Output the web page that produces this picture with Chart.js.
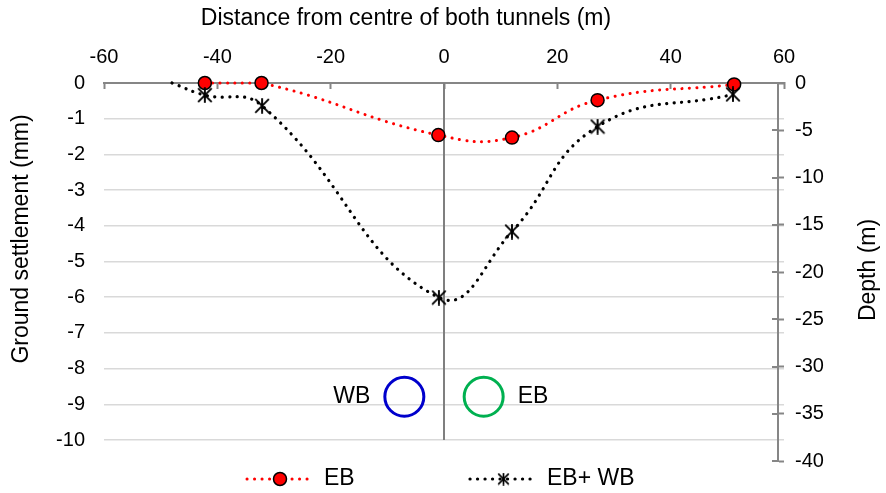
<!DOCTYPE html>
<html>
<head>
<meta charset="utf-8">
<script src="https://cdn.jsdelivr.net/npm/chart.js@4.4.1/dist/chart.umd.min.js"></script>
<style>
  html, body { margin: 0; padding: 0; background: #ffffff; }
  #wrap { width: 886px; height: 493px; }
</style>
</head>
<body>
<div id="wrap"><canvas id="chart" width="886" height="493"></canvas></div>
<script>
// Surface settlement trough above the twin tunnels (EB alone, then EB + WB)
const seriesNames = ['EB', 'EB+ WB'];
const distanceEB = [-42.2, -32.2, -1.0, 12.0, 27.1, 51.2];
const settlementEB = [0, 0, -1.46, -1.53, -0.48, -0.04];
const distanceBoth = [-48.0, -42.2, -32.1, -0.9, 12.0, 27.1, 51.0];
const settlementBoth = [0, -0.34, -0.64, -6.01, -4.16, -1.22, -0.32];

// Tunnel cross-sections, plotted against depth
const tunnelNames = ['WB', 'EB'];
const tunnelX = [-7, 7];
const tunnelDepth = [-33.2, -33.2];
const tunnelColours = ['#0000CC', '#00B050'];

// Centreline between the tunnels, in settlement units
const centreLineX = [0, 0];
const centreLineY = [0, -10];

// Axis ticks
const distanceTicks = [-60, -40, -20, 0, 20, 40, 60];
const settlementTicks = [0, -1, -2, -3, -4, -5, -6, -7, -8, -9, -10];
const depthTicks = [0, -5, -10, -15, -20, -25, -30, -35, -40];

const titleTop = 'Distance from centre of both tunnels (m)';
const titleLeft = 'Ground settlement (mm)';
const titleRight = 'Depth (m)';

const FONT = '"Liberation Sans", Arial, sans-serif';
Chart.defaults.font.family = FONT;
Chart.defaults.color = '#000000';

const AXIS_GREY = '#868686';
const DOT_DASH = [0.1, 7.4];

function pairs(xs, ys) {
  return xs.map((x, i) => ({ x: x, y: ys[i] }));
}

// Asterisk marker: an X crossed by a vertical stroke
function makeStar(size, lw) {
  const c = document.createElement('canvas');
  c.width = size; c.height = size;
  const g = c.getContext('2d');
  g.strokeStyle = '#000000';
  g.lineWidth = lw;
  const a = 1.2, b = size - 1.2, m = size / 2;
  g.beginPath();
  g.moveTo(a, a); g.lineTo(b, b);
  g.moveTo(b, a); g.lineTo(a, b);
  g.moveTo(m, 0.3); g.lineTo(m, size - 0.3);
  g.stroke();
  return c;
}
const starMarker = makeStar(16, 1.9);
const starLegend = makeStar(13, 1.7);

function ticksFrom(list) {
  return function (scale) {
    scale.ticks = list.map(v => ({ value: v }));
  };
}

// Axis titles, the short inner half of the depth ticks, tunnel labels and the legend
const decorations = {
  id: 'decorations',
  afterLayout(chart) {
    // depth axis sits just inside the end of the distance axis
    const d = chart.scales.depth;
    d.left -= 6; d.right -= 6;
  },
  afterDraw(chart) {
    const ctx = chart.ctx;
    const xs = chart.scales.x;
    const ds = chart.scales.depth;

    ctx.save();
    ctx.fillStyle = '#000000';
    ctx.font = '23px ' + FONT;
    ctx.textBaseline = 'middle';

    ctx.textAlign = 'center';
    ctx.fillText(titleTop, 406, 19);

    ctx.save();
    ctx.translate(22, 239);
    ctx.rotate(-Math.PI / 2);
    ctx.fillText(titleLeft, 0, 0);
    ctx.restore();

    ctx.save();
    ctx.translate(869, 270);
    ctx.rotate(-Math.PI / 2);
    ctx.fillText(titleRight, 0, 0);
    ctx.restore();

    // inner half of the depth tick marks
    ctx.strokeStyle = AXIS_GREY;
    ctx.lineWidth = 2;
    ds.ticks.forEach(t => {
      const y = Math.round(ds.getPixelForValue(t.value));
      ctx.beginPath();
      ctx.moveTo(ds.left - 6, y);
      ctx.lineTo(ds.left, y);
      ctx.stroke();
    });

    // tunnel names beside the circles
    tunnelNames.forEach((name, i) => {
      const px = xs.getPixelForValue(tunnelX[i]);
      const py = ds.getPixelForValue(tunnelDepth[i]);
      ctx.textAlign = i === 0 ? 'right' : 'left';
      ctx.fillText(name, i === 0 ? px - 34 : px + 34, py);
    });

    // legend
    const ly = 479;
    const items = [
      { x0: 247, x1: 313, colour: '#FF0000', width: 3, text: seriesNames[0], tx: 324, marker: 'circle' },
      { x0: 470, x1: 537, colour: '#000000', width: 3.2, text: seriesNames[1], tx: 547, marker: 'star' }
    ];
    items.forEach(it => {
      ctx.save();
      ctx.strokeStyle = it.colour;
      ctx.lineWidth = it.width;
      ctx.lineCap = 'round';
      ctx.setLineDash(DOT_DASH);
      ctx.beginPath();
      ctx.moveTo(it.x0, ly);
      ctx.lineTo(it.x1, ly);
      ctx.stroke();
      ctx.restore();
      const mx = (it.x0 + it.x1) / 2;
      if (it.marker === 'circle') {
        ctx.beginPath();
        ctx.arc(mx, ly, 6.5, 0, Math.PI * 2);
        ctx.fillStyle = '#FF0000';
        ctx.fill();
        ctx.lineWidth = 1.5;
        ctx.strokeStyle = '#000000';
        ctx.stroke();
      } else {
        ctx.drawImage(starLegend, mx - starLegend.width / 2, ly - starLegend.height / 2);
      }
      ctx.fillStyle = '#000000';
      ctx.textAlign = 'left';
      ctx.fillText(it.text, it.tx, ly);
    });
    ctx.restore();
  }
};

new Chart(document.getElementById('chart'), {
  type: 'scatter',
  data: {
    datasets: [
      {
        label: seriesNames[1],
        data: pairs(distanceBoth, settlementBoth),
        yAxisID: 'y',
        showLine: true,
        tension: 0.45,
        borderColor: '#000000',
        borderWidth: 3.2,
        borderDash: DOT_DASH,
        borderCapStyle: 'round',
        pointStyle: starMarker,
        pointRadius: ctx => (ctx.dataIndex === 0 ? 0 : 7),
        clip: false,
        order: 1
      },
      {
        label: seriesNames[0],
        data: pairs(distanceEB, settlementEB),
        yAxisID: 'y',
        showLine: true,
        tension: 0.45,
        borderColor: '#FF0000',
        borderWidth: 3,
        borderDash: DOT_DASH,
        borderCapStyle: 'round',
        pointStyle: 'circle',
        pointRadius: 6.5,
        pointBackgroundColor: '#FF0000',
        pointBorderColor: '#000000',
        pointBorderWidth: 1.5,
        clip: false,
        order: 2
      },
      {
        label: 'tunnels',
        data: pairs(tunnelX, tunnelDepth),
        yAxisID: 'depth',
        showLine: false,
        pointStyle: 'circle',
        pointRadius: 19.5,
        pointBackgroundColor: 'rgba(0,0,0,0)',
        pointBorderColor: tunnelColours,
        pointBorderWidth: 3,
        clip: false,
        order: 3
      },
      {
        label: 'centreline',
        data: pairs(centreLineX, centreLineY),
        yAxisID: 'y',
        showLine: true,
        borderColor: '#7F7F7F',
        borderWidth: 2,
        pointRadius: 0,
        order: 4
      }
    ]
  },
  options: {
    responsive: false,
    devicePixelRatio: 1,
    animation: false,
    events: [],
    layout: { padding: { top: 0, left: 0, right: 0, bottom: 32 } },
    plugins: {
      legend: { display: false },
      tooltip: { enabled: false }
    },
    scales: {
      x: {
        type: 'linear',
        position: 'top',
        min: -60,
        max: 60,
        afterBuildTicks: ticksFrom(distanceTicks),
        afterFit: s => { s.height = 83; },
        ticks: {
          font: { size: 20 },
          color: '#000000',
          padding: 20,
          maxRotation: 0,
          autoSkip: false
        },
        grid: {
          drawOnChartArea: false,
          tickLength: -6,
          tickColor: AXIS_GREY,
          tickWidth: 2
        },
        border: { display: true, color: AXIS_GREY, width: 2 }
      },
      y: {
        type: 'linear',
        position: 'left',
        min: -10.588,
        max: 0,
        afterBuildTicks: ticksFrom(settlementTicks),
        afterFit: s => { s.width = 104; },
        ticks: {
          font: { size: 20 },
          color: '#000000',
          padding: 19
        },
        grid: {
          color: c => (c.tick && c.tick.value === 0 ? 'rgba(0,0,0,0)' : '#D9D9D9'),
          lineWidth: 1.5,
          drawTicks: false
        },
        border: { display: false }
      },
      depth: {
        type: 'linear',
        position: 'right',
        min: -40,
        max: 0,
        afterBuildTicks: ticksFrom(depthTicks),
        afterFit: s => { s.width = 102; },
        ticks: {
          font: { size: 20 },
          color: '#000000',
          padding: 11
        },
        grid: {
          drawOnChartArea: false,
          tickLength: 6,
          tickColor: AXIS_GREY,
          tickWidth: 2
        },
        border: { display: true, color: AXIS_GREY, width: 2 }
      }
    }
  },
  plugins: [decorations]
});
</script>
</body>
</html>
